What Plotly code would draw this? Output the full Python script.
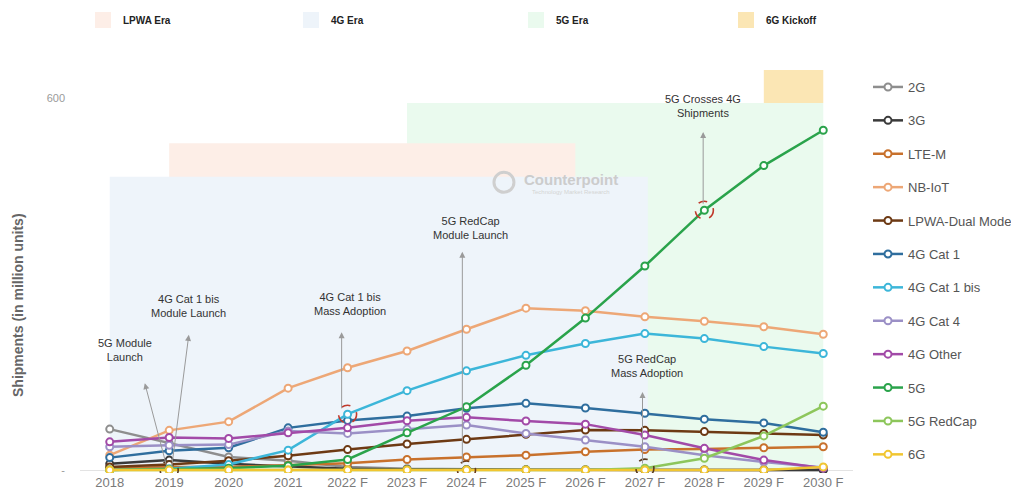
import plotly.graph_objects as go

years = ["2018", "2019", "2020", "2021", "2022 F", "2023 F", "2024 F",
         "2025 F", "2026 F", "2027 F", "2028 F", "2029 F", "2030 F"]

s_2g = [66, 43, 21, 15, 5, 2, 1, 0.5, 0.3, 0.2, 0.1, 0.1, 0.1]
s_3g = [10, 16, 10, 6, 2, 1, 0.5, 0.3, 0.2, 0.1, 0.1, 0.1, 0.1]
s_ltem = [3, 5, 5, 8, 11, 17, 21, 24, 29.5, 33, 34, 36, 37.5]
s_nbiot = [24, 64, 78, 132, 165, 192, 227, 261, 257, 247, 240, 231, 219]
s_dual = [5, 9, 15, 23, 33, 42, 49.5, 57.5, 64.5, 64, 62, 59, 56.5]
s_cat1 = [20, 31, 36, 68, 80, 87, 99.5, 107.5, 100, 91.5, 82, 76, 61]
s_cat1bis = [0, 2, 9, 32, 90, 128, 160, 185, 204, 220, 212, 199, 188]
s_cat4 = [37.5, 40, 41, 63, 59, 66, 72.5, 59, 48.5, 37.5, 24, 13, 4]
s_other = [45.5, 52.5, 51, 60, 68, 79.5, 85, 79, 74, 56.5, 35, 16, 3]
s_5g = [0, 1, 3, 7, 17, 60, 102, 169, 245, 329, 419, 491, 548]
s_redcap = [0, 0, 0, 0, 0, 0, 0, 0, 0, 3, 19, 55, 103]
s_6g = [0, 0, 0, 0, 0, 0, 0, 0, 0, 0, 0, 0, 5]

series_names = ["2G", "3G", "LTE-M", "NB-IoT", "LPWA-Dual Mode", "4G Cat 1",
                "4G Cat 1 bis", "4G Cat 4", "4G Other", "5G", "5G RedCap", "6G"]
series_values = [s_2g, s_3g, s_ltem, s_nbiot, s_dual, s_cat1, s_cat1bis,
                 s_cat4, s_other, s_5g, s_redcap, s_6g]
series_colors = ["#8e8e8e", "#3a3a3a", "#c8712c", "#eda776", "#6d3a14", "#2f6e9e",
                 "#3cb6d9", "#9b90c6", "#a24aa8", "#2aa34b", "#8dc65b", "#f1c631"]

era_names = ["LPWA Era", "4G Era", "5G Era", "6G Kickoff"]
era_colors = ["#fdeee7", "#eef4fa", "#eafaee", "#fbe6b4"]
era_x0 = [1, 0, 5, 11]
era_x1 = [7.83, 9.05, 12, 12]
era_y0 = [0, 0, 0, 592]
era_y1 = [527, 473, 592, 645]
era_draw_order = [2, 0, 1, 3]

x_idx = list(range(len(years)))

# page geometry (the page body adds an 8px offset)
OFF = 8
PL, PR, PT, PB = 80, 853, 62, 473          # plot area in page pixels
W, H = 1019 - OFF, 492 - OFF


def px_x(p):
    return (p - PL) / (PR - PL)


def px_y(p):
    return (PB - p) / (PB - PT)


fig = go.Figure()

# era legend entries (top legends, one per entry for exact placement)
era_leg_ids = ["legend2", "legend3", "legend4", "legend5"]
era_leg_left = [83, 291, 516, 726]
for name, col, lid in zip(era_names, era_colors, era_leg_ids):
    fig.add_trace(go.Scatter(
        x=[None], y=[None], mode="markers", name=name,
        marker=dict(symbol="square", size=20, color=col),
        legend=lid, hoverinfo="skip"))

for name, vals, col in zip(series_names, series_values, series_colors):
    fig.add_trace(go.Scatter(
        x=x_idx, y=vals, name=name, mode="lines+markers",
        legendgroup=name,
        line=dict(color=col, width=2.5),
        marker=dict(symbol="circle", size=7, color="white",
                    line=dict(color=col, width=2))))

shapes = []
for k in era_draw_order:
    shapes.append(dict(type="rect", xref="x", yref="y",
                       x0=era_x0[k], x1=era_x1[k], y0=era_y0[k], y1=era_y1[k],
                       fillcolor=era_colors[k], line=dict(width=0), layer="below"))

# dashed event circles
events = [(1, s_6g[1], "#5a3a1e"), (4, s_cat1bis[4], "#c0392b"),
          (6, s_6g[6], "#6a3a1a"), (9, s_redcap[9], "#5a3a1e"),
          (10, s_5g[10], "#c0392b")]
for ex, ey, ec in events:
    shapes.append(dict(type="circle", xref="x", yref="y",
                       xsizemode="pixel", ysizemode="pixel",
                       xanchor=ex, yanchor=ey, x0=-9, x1=9, y0=-9, y1=9,
                       line=dict(color=ec, width=1.6, dash="dash"), layer="above"))

# watermark logo circle
shapes.append(dict(type="circle", xref="x", yref="y", xsizemode="pixel", ysizemode="pixel",
                   xanchor=6.63, yanchor=464, x0=-10, x1=10, y0=-10, y1=10,
                   line=dict(color="#cfcfcf", width=3), layer="below"))

ann_font = dict(family="Liberation Sans, Arial, sans-serif", size=11, color="#333333")
annotations = []
texts = [(0.25, 193, "5G Module<br>Launch"),
         (1.33, 265, "4G Cat 1 bis<br>Module Launch"),
         (4.04, 268, "4G Cat 1 bis<br>Mass Adoption"),
         (6.06, 390, "5G RedCap<br>Module Launch"),
         (9.98, 587, "5G Crosses 4G<br>Shipments"),
         (9.04, 168, "5G RedCap<br>Mass Adoption")]
for tx, ty, tt in texts:
    annotations.append(dict(x=tx, y=ty, xref="x", yref="y", text=tt, showarrow=False,
                            font=ann_font, align="center"))
arrows = [((0.59, 140), (0.96, 5)), ((1.33, 218), (1.04, 3)),
          ((3.9, 222), (3.9, 97)), ((5.93, 352), (5.93, 8)),
          ((9.98, 545), (9.98, 427)), ((8.96, 126), (8.96, 8))]
for (hx, hy), (tx, ty) in arrows:
    annotations.append(dict(x=hx, y=hy, ax=tx, ay=ty, xref="x", yref="y",
                            axref="x", ayref="y", text="", showarrow=True,
                            arrowhead=2, arrowsize=1.2, arrowwidth=1, arrowcolor="#9a9a9a"))
annotations.append(dict(x=7.75, y=468, xref="x", yref="y", text="<b>Counterpoint</b>",
                        showarrow=False, font=dict(family="Liberation Sans, Arial", size=15,
                                                   color="#cccccc")))
annotations.append(dict(x=7.75, y=449, xref="x", yref="y", text="Technology Market Research",
                        showarrow=False, font=dict(family="Liberation Sans, Arial", size=6,
                                                   color="#d4d4d4")))
annotations.append(dict(x=px_x(18), y=px_y(305), xref="paper", yref="paper",
                        xanchor="center", yanchor="middle",
                        text="Shipments (in million units)", showarrow=False, textangle=-90,
                        font=dict(family="Liberation Sans, Arial", size=14, color="#666666",
                                  weight="bold")))

layout_legends = {}
for lid, left in zip(era_leg_ids, era_leg_left):
    layout_legends[lid] = dict(orientation="h", x=px_x(left), xanchor="left",
                               y=px_y(20), yanchor="middle",
                               font=dict(size=10, color="#222222", weight="bold"),
                               bgcolor="rgba(0,0,0,0)")

fig.update_layout(
    width=W, height=H,
    margin=dict(l=PL - OFF, r=W - (PR - OFF), t=PT - OFF, b=H - (PB - OFF), autoexpand=False),
    paper_bgcolor="white", plot_bgcolor="white",
    font=dict(family="Liberation Sans, Arial, sans-serif"),
    shapes=shapes, annotations=annotations,
    xaxis=dict(range=[-0.5, 12.5], tickvals=x_idx, ticktext=years, showgrid=False,
               zeroline=False, showline=False, ticks="",
               tickfont=dict(size=13, color="#7a7a7a"), automargin=False),
    yaxis=dict(range=[-4.8, 658], tickvals=[0, 600], ticktext=["-", "600"],
               showgrid=False, zeroline=True, zerolinecolor="#e3e3e3", zerolinewidth=1,
               showline=False, ticks="", ticklabelstandoff=14,
               tickfont=dict(size=11, color="#9a9a9a"), automargin=False),
    showlegend=True,
    legend=dict(x=px_x(868), xanchor="left", y=px_y(72), yanchor="top",
                font=dict(size=13, color="#555555"), traceorder="grouped",
                tracegroupgap=13.5, bgcolor="rgba(0,0,0,0)", itemwidth=30),
    **layout_legends,
)

fig.write_html("out.html")
